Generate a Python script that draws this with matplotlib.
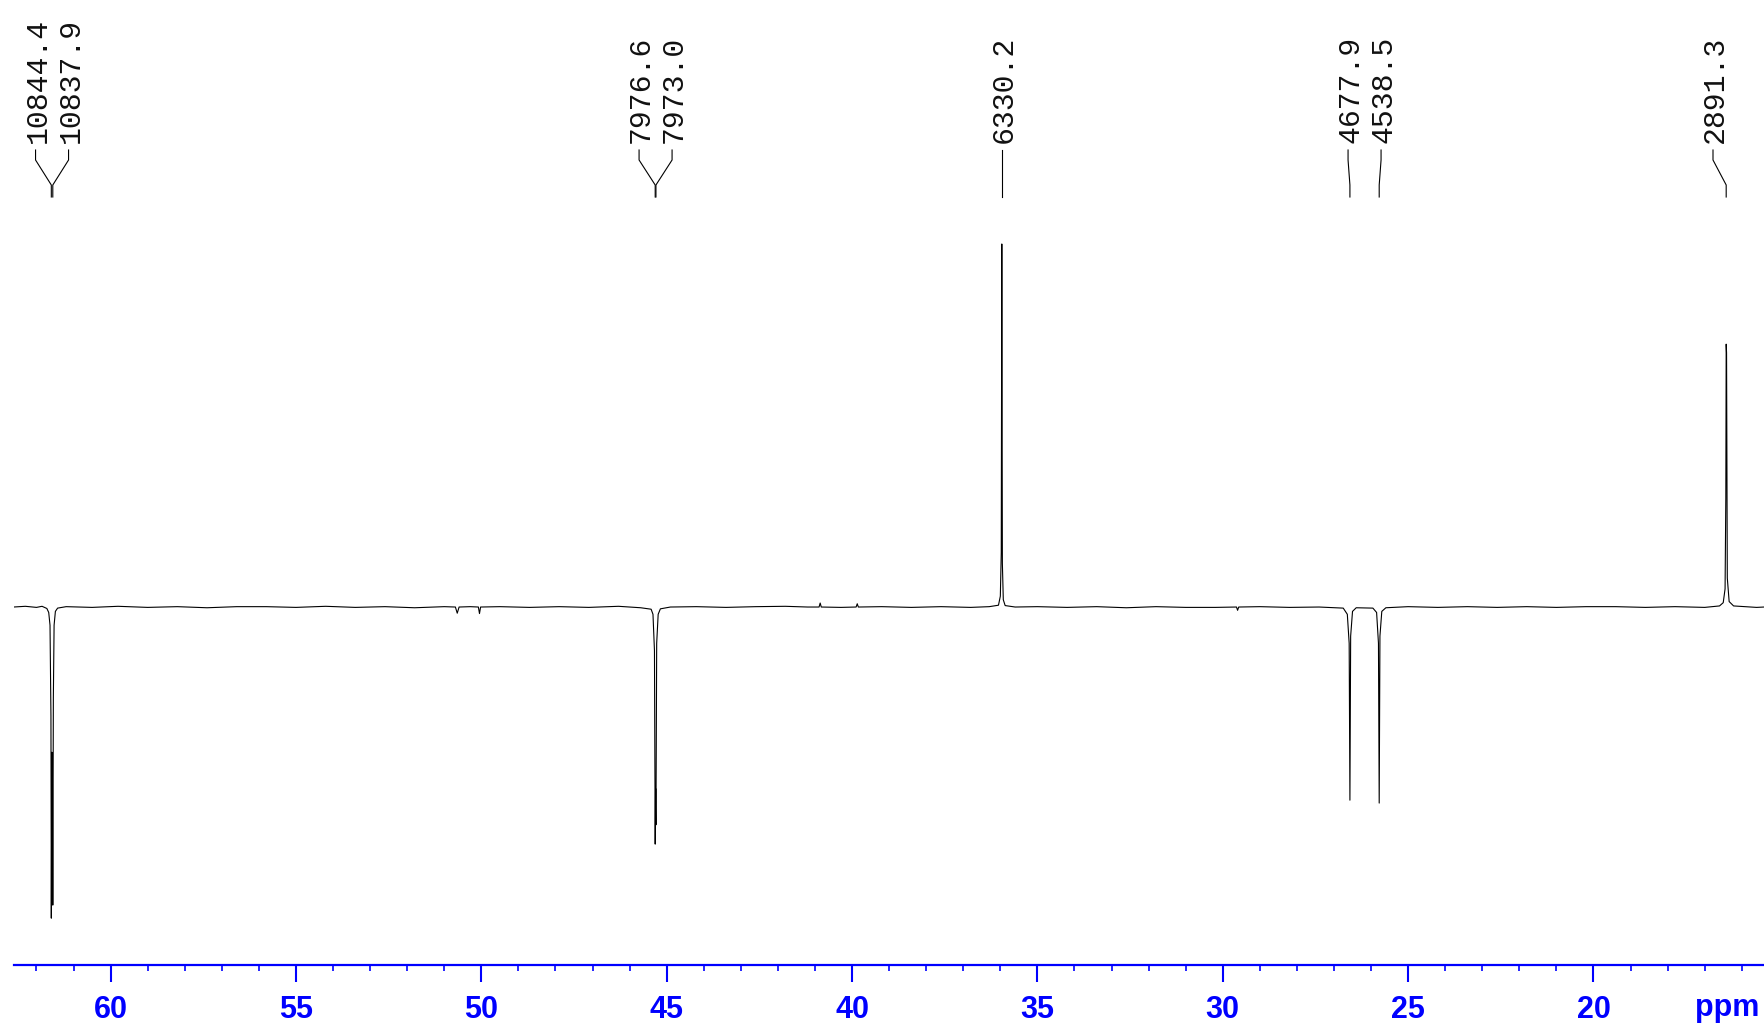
import matplotlib
matplotlib.use("Agg")
import matplotlib.pyplot as plt
from matplotlib.ticker import MultipleLocator

# Peak list (labels are in Hz, positions in ppm)
peak_ppm = [61.60, 61.56, 45.31, 45.29, 35.96, 26.57, 25.78, 16.42]
peak_hz = ["10844.4", "10837.9", "7976.6", "7973.0", "6330.2", "4677.9", "4538.5", "2891.3"]

# Spectrum trace (ppm, relative intensity)
trace_ppm = [62.62, 62.3, 62.0, 61.85, 61.72, 61.67, 61.635, 61.61, 61.60, 61.585,
             61.57, 61.56, 61.545, 61.525, 61.49, 61.43, 61.2, 60.5, 59.8, 59.0,
             58.2, 57.4, 56.6, 55.8, 55.0, 54.2, 53.4, 52.6, 51.8, 51.0,
             50.70, 50.65, 50.60, 50.30, 50.08, 50.05, 50.02, 49.5, 48.7, 47.9,
             47.1, 46.3, 45.7, 45.42, 45.37, 45.33, 45.31, 45.30, 45.29, 45.27,
             45.23, 45.17, 44.9, 44.2, 43.4, 42.6, 41.8, 41.2, 40.89, 40.86,
             40.83, 40.3, 39.89, 39.86, 39.83, 39.2, 38.4, 37.6, 36.8, 36.3,
             36.05, 36.00, 35.975, 35.96, 35.945, 35.92, 35.87, 35.6, 35.0, 34.2,
             33.4, 32.6, 31.8, 31.0, 30.2, 29.63, 29.60, 29.57, 29.0, 28.2,
             27.4, 26.75, 26.64, 26.59, 26.57, 26.55, 26.50, 26.40, 25.95, 25.85,
             25.80, 25.78, 25.76, 25.71, 25.6, 25.0, 24.2, 23.4, 22.6, 21.8,
             21.0, 20.2, 19.4, 18.6, 17.8, 17.0, 16.6, 16.50, 16.45, 16.43,
             16.42, 16.41, 16.39, 16.34, 16.22, 15.9, 15.6, 15.40]
trace_int = [0.0, 0.002, -0.001, 0.002, -0.004, -0.015, -0.05, -0.30, -0.857, -0.40,
             -0.45, -0.821, -0.25, -0.05, -0.012, -0.003, 0.001, -0.001, 0.002, -0.001,
             0.001, -0.002, 0.001, 0.001, -0.001, 0.002, -0.001, 0.001, -0.002, 0.001,
             0.0, -0.017, 0.0, 0.001, 0.0, -0.018, 0.0, 0.001, -0.001, 0.001,
             -0.001, 0.002, -0.002, -0.006, -0.02, -0.12, -0.653, -0.50, -0.60, -0.10,
             -0.02, -0.005, 0.0, 0.001, -0.001, 0.001, 0.002, 0.0, 0.0, 0.011,
             0.0, -0.001, 0.0, 0.009, 0.0, 0.001, -0.001, 0.001, -0.001, 0.001,
             0.005, 0.03, 0.15, 1.0, 0.12, 0.02, 0.004, 0.0, 0.001, -0.001,
             0.001, -0.002, 0.001, -0.001, -0.001, 0.0, -0.009, 0.0, 0.001, -0.001,
             0.0, -0.003, -0.02, -0.10, -0.532, -0.08, -0.012, -0.002, -0.003, -0.015,
             -0.10, -0.540, -0.08, -0.012, -0.002, 0.001, -0.001, 0.001, -0.001, 0.001,
             -0.001, 0.001, 0.001, -0.001, 0.001, -0.001, 0.003, 0.012, 0.05, 0.30,
             0.724, 0.70, 0.08, 0.015, 0.003, 0.001, -0.001, 0.0]

W, H = 1764, 1026
fig = plt.figure(figsize=(W / 100, H / 100), dpi=100)
ax = fig.add_axes([13.5 / W, (H - 965) / H, (W - 13.5) / W, 965 / H])

ax.plot(trace_ppm, trace_int, color="black", lw=0.8)
ax.set_xlim(62.62, 15.40)
ax.set_ylim(-0.986, 1.672)

blue = "#0000ff"
for s in ["top", "left", "right"]:
    ax.spines[s].set_visible(False)
ax.spines["bottom"].set_color(blue)
ax.spines["bottom"].set_linewidth(1.6)
ax.set_yticks([])
ax.xaxis.set_minor_locator(MultipleLocator(1))
ax.set_xticks([60, 55, 50, 45, 40, 35, 30, 25, 20])
ax.set_xticklabels(["60", "55", "50", "45", "40", "35", "30", "25", "20"],
                   fontweight="bold", family="Liberation Sans")
ax.tick_params(axis="x", which="major", length=12.5, width=1.5, color=blue,
               labelcolor=blue, labelsize=22, pad=9)
ax.tick_params(axis="x", which="minor", length=4.5, width=1.2, color=blue)
fig.text(1727 / W, 1 - 1008 / H, "ppm", color=blue, fontsize=22, fontweight="bold",
         family="Liberation Sans", ha="center", va="center")

# peak labels, spread out so they do not overlap
fig.canvas.draw()
peak_px = [ax.transData.transform((p, 0))[0] for p in peak_ppm]
order = sorted(range(len(peak_px)), key=lambda i: peak_px[i])
pos = [peak_px[i] for i in order]
gap = 33
for _ in range(100):
    moved = False
    for i in range(len(pos) - 1):
        d = pos[i + 1] - pos[i]
        if d < gap - 0.01:
            sh = (gap - d) / 2
            pos[i] -= sh
            pos[i + 1] += sh
            moved = True
    if not moved:
        break
xmax = W - 51
if pos[-1] > xmax:
    pos[-1] = xmax
    for i in range(len(pos) - 2, -1, -1):
        if pos[i + 1] - pos[i] < gap:
            pos[i] = pos[i + 1] - gap
label_x = [0] * len(pos)
for k, i in enumerate(order):
    label_x[i] = pos[k]


def fx(x):
    return x / W


def fy(y):
    return 1 - y / H


for px, lx, txt in zip(peak_px, label_x, peak_hz):
    xs = [fx(lx), fx(lx), fx(px), fx(px)]
    ys = [fy(150), fy(160), fy(185), fy(197)]
    fig.add_artist(plt.Line2D(xs, ys, color="black", lw=0.8))
    fig.text(fx(lx + 2), fy(143), txt, rotation=90, ha="center", va="bottom",
             family="Liberation Mono", fontsize=21.5, color="#111111")

fig.savefig("out.png", dpi=100)
